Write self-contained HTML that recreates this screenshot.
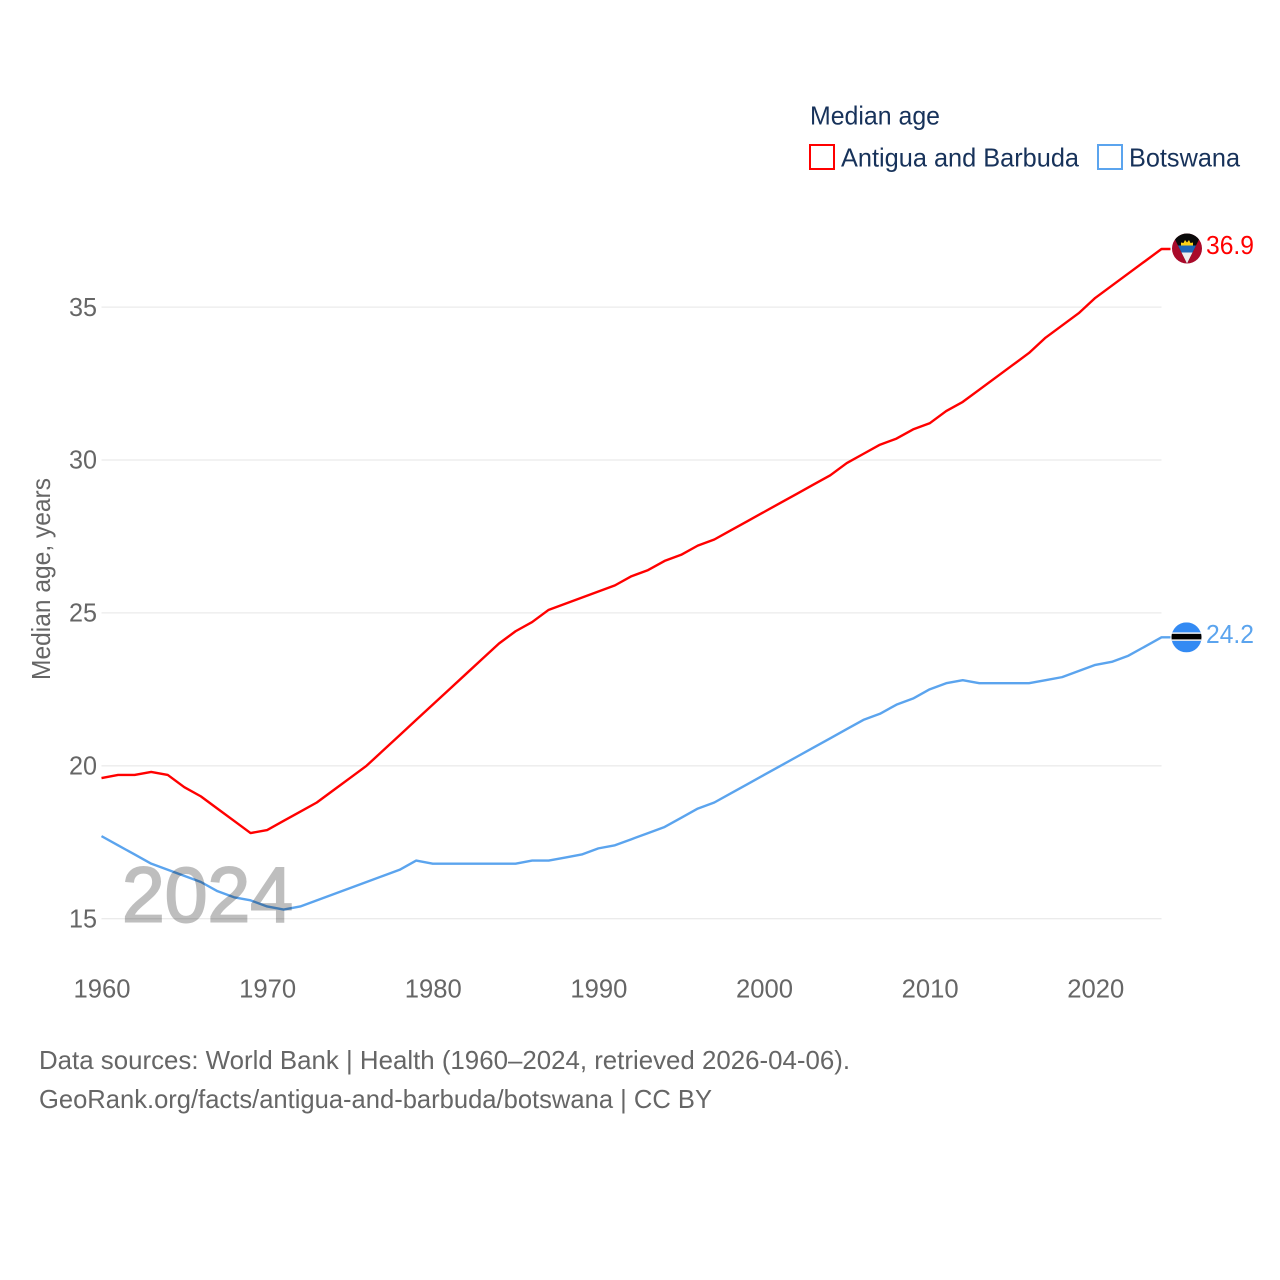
<!DOCTYPE html>
<html lang="en">
<head>
<meta charset="utf-8">
<title>Median age: Antigua and Barbuda vs Botswana</title>
<style>
html,body{margin:0;padding:0;background:#fff;width:1280px;height:1280px;overflow:hidden}
svg{display:block;font-family:"Liberation Sans",sans-serif}
</style>
</head>
<body>
<svg id="chart" xmlns="http://www.w3.org/2000/svg" width="1280" height="1280" viewBox="0 0 1280 1280">
  <rect x="0" y="0" width="1280" height="1280" fill="#fff"/>
  <g id="grid"></g>
  <g id="yticks"></g>
  <g id="xticks"></g>
  <text transform="translate(50,680) rotate(-90)" font-size="26" fill="#666" textLength="202" lengthAdjust="spacingAndGlyphs">Median age, years</text>
  <g id="series"></g>
  <text x="122" y="921.5" font-size="78" fill="#000" stroke="#000" stroke-width="2" opacity="0.25" textLength="171" lengthAdjust="spacingAndGlyphs">2024</text>

  <g>
    <text x="810" y="124.5" font-size="26" fill="#17325a" textLength="130" lengthAdjust="spacingAndGlyphs">Median age</text>
    <g>
      <rect x="810" y="145" width="24" height="24" fill="#fff" stroke="#ff0000" stroke-width="2"/>
      <text x="841" y="166.5" font-size="26" fill="#17325a" textLength="238" lengthAdjust="spacingAndGlyphs">Antigua and Barbuda</text>
    </g>
    <g>
      <rect x="1098" y="145" width="24" height="24" fill="#fff" stroke="#5ba4ee" stroke-width="2"/>
      <text x="1129" y="166.5" font-size="26" fill="#17325a" textLength="111" lengthAdjust="spacingAndGlyphs">Botswana</text>
    </g>
  </g>

  <defs>
    <clipPath id="clip-ag"><circle cx="0" cy="0" r="15"/></clipPath>
    <clipPath id="clip-bw"><circle cx="0" cy="0" r="15"/></clipPath>
  </defs>
  <g id="flag-ag">
    <g clip-path="url(#clip-ag)">
      <rect x="-15" y="-15" width="30" height="30" fill="#a90a2a"/>
      <polygon points="-15,-15 15,-15 0,15" fill="#0a0a0a"/>
      <polygon points="-9,-3 9,-3 5.5,4 -5.5,4" fill="#1d66b8"/>
      <polygon points="-5.5,4 5.5,4 0,15" fill="#eeeeee"/>
      <polygon points="-6,-3 -6,-6 -3.5,-5.5 -2,-8.5 0,-6 2,-8.5 3.5,-5.5 6,-6 6,-3" fill="#fcd116"/>
    </g>
  </g>
  <g id="flag-bw">
    <g clip-path="url(#clip-bw)">
      <rect x="-15" y="-15" width="30" height="30" fill="#338af3"/>
      <rect x="-15" y="-5" width="30" height="8.5" fill="#f0f0f0"/>
      <rect x="-15" y="-3.5" width="30" height="5.5" fill="#000"/>
    </g>
  </g>
  <text id="label-ag" x="1206" font-size="26" fill="#ff0000" textLength="48" lengthAdjust="spacingAndGlyphs"></text>
  <text id="label-bw" x="1206" font-size="26" fill="#5ba4ee" textLength="48" lengthAdjust="spacingAndGlyphs"></text>

  <text x="39" y="1069" font-size="26" fill="#666" textLength="811" lengthAdjust="spacingAndGlyphs">Data sources: World Bank | Health (1960–2024, retrieved 2026-04-06).</text>
  <text x="39" y="1108" font-size="26" fill="#666" textLength="673" lengthAdjust="spacingAndGlyphs">GeoRank.org/facts/antigua-and-barbuda/botswana | CC BY</text>
</svg>
<script>
const startYear = 1960;
const xTickYears = [1960, 1970, 1980, 1990, 2000, 2010, 2020];
const yTickValues = [15, 20, 25, 30, 35];
const antiguaValues = [19.6,19.7,19.7,19.8,19.7,19.3,19.0,18.6,18.2,17.8,17.9,18.2,18.5,18.8,19.2,19.6,20.0,20.5,21.0,21.5,22.0,22.5,23.0,23.5,24.0,24.4,24.7,25.1,25.3,25.5,25.7,25.9,26.2,26.4,26.7,26.9,27.2,27.4,27.7,28.0,28.3,28.6,28.9,29.2,29.5,29.9,30.2,30.5,30.7,31.0,31.2,31.6,31.9,32.3,32.7,33.1,33.5,34.0,34.4,34.8,35.3,35.7,36.1,36.5,36.9];
const botswanaValues = [17.7,17.4,17.1,16.8,16.6,16.4,16.2,15.9,15.7,15.6,15.4,15.3,15.4,15.6,15.8,16.0,16.2,16.4,16.6,16.9,16.8,16.8,16.8,16.8,16.8,16.8,16.9,16.9,17.0,17.1,17.3,17.4,17.6,17.8,18.0,18.3,18.6,18.8,19.1,19.4,19.7,20.0,20.3,20.6,20.9,21.2,21.5,21.7,22.0,22.2,22.5,22.7,22.8,22.7,22.7,22.7,22.7,22.8,22.9,23.1,23.3,23.4,23.6,23.9,24.2];

const NS = 'http://www.w3.org/2000/svg';
const xScale = year => 101.5 + (year - 1960) * (1161.5 - 101.5) / 64;
const yScale = value => 918.7 - (value - 15) * 30.58;
const lastX = xScale(startYear + antiguaValues.length - 1);

const grid = document.getElementById('grid');
const yticks = document.getElementById('yticks');
const xticks = document.getElementById('xticks');
const series = document.getElementById('series');

yTickValues.forEach(v => {
  const line = document.createElementNS(NS, 'line');
  
  
  line.setAttribute('x1', 101.5);
  line.setAttribute('x2', 1161.5);
  line.setAttribute('y1', yScale(v));
  line.setAttribute('y2', yScale(v));
  line.setAttribute('stroke', '#ebebeb');
  line.setAttribute('stroke-width', 1.3);
  grid.appendChild(line);

  const label = document.createElementNS(NS, 'text');
  
  
  label.setAttribute('x', 69);
  label.setAttribute('y', yScale(v) + 8.7);
  label.setAttribute('font-size', 26);
  label.setAttribute('fill', '#666');
  label.setAttribute('textLength', 28);
  label.setAttribute('lengthAdjust', 'spacingAndGlyphs');
  label.textContent = v;
  yticks.appendChild(label);
});

xTickYears.forEach(y => {
  const label = document.createElementNS(NS, 'text');
  
  
  label.setAttribute('x', xScale(y) + 0.5);
  label.setAttribute('y', 997.5);
  label.setAttribute('text-anchor', 'middle');
  label.setAttribute('font-size', 26);
  label.setAttribute('fill', '#666');
  label.setAttribute('textLength', 57);
  label.setAttribute('lengthAdjust', 'spacingAndGlyphs');
  label.textContent = y;
  xticks.appendChild(label);
});

function drawSeries(values, color) {
  const pts = values.map((v, i) => xScale(startYear + i).toFixed(2) + ',' + yScale(v).toFixed(2));
  const endY = yScale(values[values.length - 1]);
  pts.push((lastX + 9) + ',' + endY.toFixed(2));
  return { points: pts.join(' '), color: color, endY: endY };
}

const antiguaSeries = drawSeries(antiguaValues, '#ff0000');
const antiguaLine = document.createElementNS(NS, 'polyline');


antiguaLine.setAttribute('points', antiguaSeries.points);
antiguaLine.setAttribute('fill', 'none');
antiguaLine.setAttribute('stroke', antiguaSeries.color);
antiguaLine.setAttribute('stroke-width', 2.4);
antiguaLine.setAttribute('stroke-linejoin', 'round');
series.appendChild(antiguaLine);

const botswanaSeries = drawSeries(botswanaValues, '#5ba4ee');
const botswanaLine = document.createElementNS(NS, 'polyline');


botswanaLine.setAttribute('points', botswanaSeries.points);
botswanaLine.setAttribute('fill', 'none');
botswanaLine.setAttribute('stroke', botswanaSeries.color);
botswanaLine.setAttribute('stroke-width', 2.4);
botswanaLine.setAttribute('stroke-linejoin', 'round');
series.appendChild(botswanaLine);

document.getElementById('flag-ag').setAttribute('transform', 'translate(1187,' + (antiguaSeries.endY - 0.5) + ')');
document.getElementById('flag-bw').setAttribute('transform', 'translate(1186.5,' + (botswanaSeries.endY) + ')');

const labelAg = document.getElementById('label-ag');
labelAg.setAttribute('y', antiguaSeries.endY + 5);
labelAg.textContent = antiguaValues[antiguaValues.length - 1].toFixed(1);
const labelBw = document.getElementById('label-bw');
labelBw.setAttribute('y', botswanaSeries.endY + 5.5);
labelBw.textContent = botswanaValues[botswanaValues.length - 1].toFixed(1);
</script>
</body>
</html>
